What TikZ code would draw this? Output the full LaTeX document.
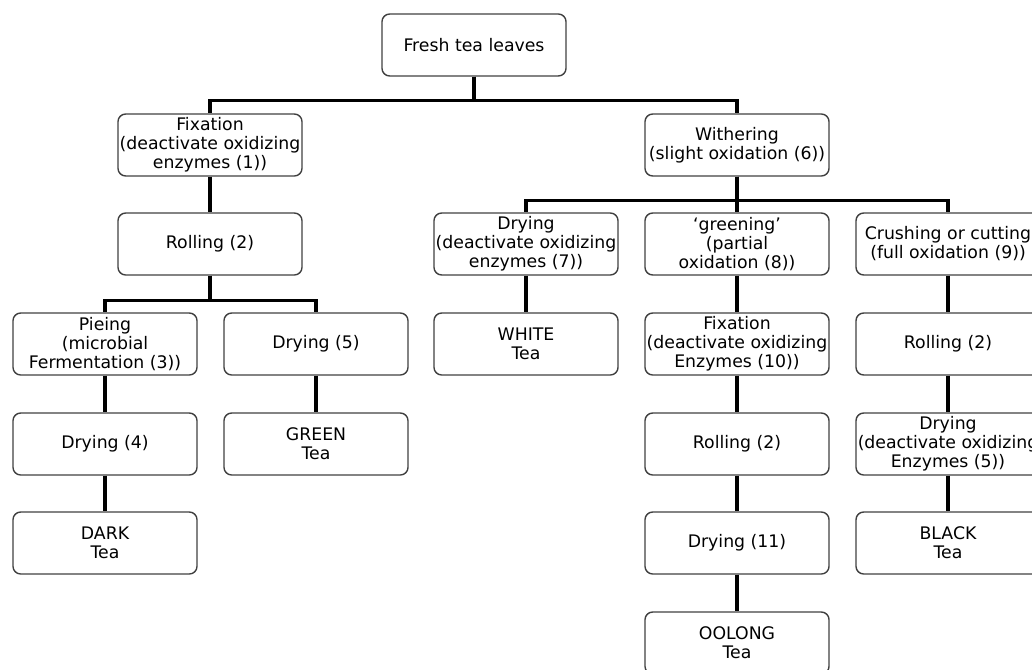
\documentclass[tikz,border=0pt]{standalone}
\usepackage{fontspec}
\setmainfont{DejaVu Sans}
\begin{document}
\begin{tikzpicture}[x=0.025cm, y=-0.025cm,
	stage/.style={draw=black!75, line width=1pt, rounded corners=5.5pt, minimum width=4.6cm, minimum height=1.55cm, inner sep=0pt, align=center, font=\fontsize{12.3}{13.5}\selectfont},
	link/.style={line width=2.4pt}]
	\clip (0,0) rectangle (1032,670);
	\node[stage] (fresh) at (474,45) {Fresh tea leaves};

	\node[stage] (fix1) at (210,145) {Fixation\\(deactivate oxidizing\\enzymes (1))};
	\node[stage] (roll1) at (210,244) {Rolling (2)};
	\node[stage] (pie) at (105,344) {Pieing\\(microbial\\Fermentation (3))};
	\node[stage] (dry5) at (316,344) {Drying (5)};
	\node[stage] (dry4) at (105,444) {Drying (4)};
	\node[stage] (green) at (316,444) {GREEN\\Tea};
	\node[stage] (dark) at (105,543) {DARK\\Tea};

	\node[stage] (wither) at (737,145) {Withering\\(slight oxidation (6))};
	\node[stage] (dry7) at (526,244) {Drying\\(deactivate oxidizing\\enzymes (7))};
	\node[stage] (greening) at (737,244) {`greening'\\(partial\\oxidation (8))};
	\node[stage] (crush) at (948,244) {Crushing or cutting\\(full oxidation (9))};
	\node[stage] (white) at (526,344) {WHITE\\Tea};
	\node[stage] (fix10) at (737,344) {Fixation\\(deactivate oxidizing\\Enzymes (10))};
	\node[stage] (roll2) at (737,444) {Rolling (2)};
	\node[stage] (dry11) at (737,543) {Drying (11)};
	\node[stage] (oolong) at (737,643) {OOLONG\\Tea};
	\node[stage] (roll3) at (948,344) {Rolling (2)};
	\node[stage] (dryE5) at (948,444) {Drying\\(deactivate oxidizing\\Enzymes (5))};
	\node[stage] (black) at (948,543) {BLACK\\Tea};

	\draw[link] (fresh.south) -- ++(0,24) -| (fix1.north);
	\draw[link] (fresh.south) -- ++(0,24) -| (wither.north);

	\draw[link] (fix1) -- (roll1);
	\draw[link] (roll1.south) -- ++(0,25) -| (pie.north);
	\draw[link] (roll1.south) -- ++(0,25) -| (dry5.north);
	\draw[link] (pie) -- (dry4);
	\draw[link] (dry4) -- (dark);
	\draw[link] (dry5) -- (green);

	\draw[link] (wither.south) -- ++(0,24) -| (dry7.north);
	\draw[link] (wither) -- (greening);
	\draw[link] (wither.south) -- ++(0,24) -| (crush.north);
	\draw[link] (dry7) -- (white);
	\draw[link] (greening) -- (fix10);
	\draw[link] (fix10) -- (roll2);
	\draw[link] (roll2) -- (dry11);
	\draw[link] (dry11) -- (oolong);
	\draw[link] (crush) -- (roll3);
	\draw[link] (roll3) -- (dryE5);
	\draw[link] (dryE5) -- (black);
\end{tikzpicture}
\end{document}
